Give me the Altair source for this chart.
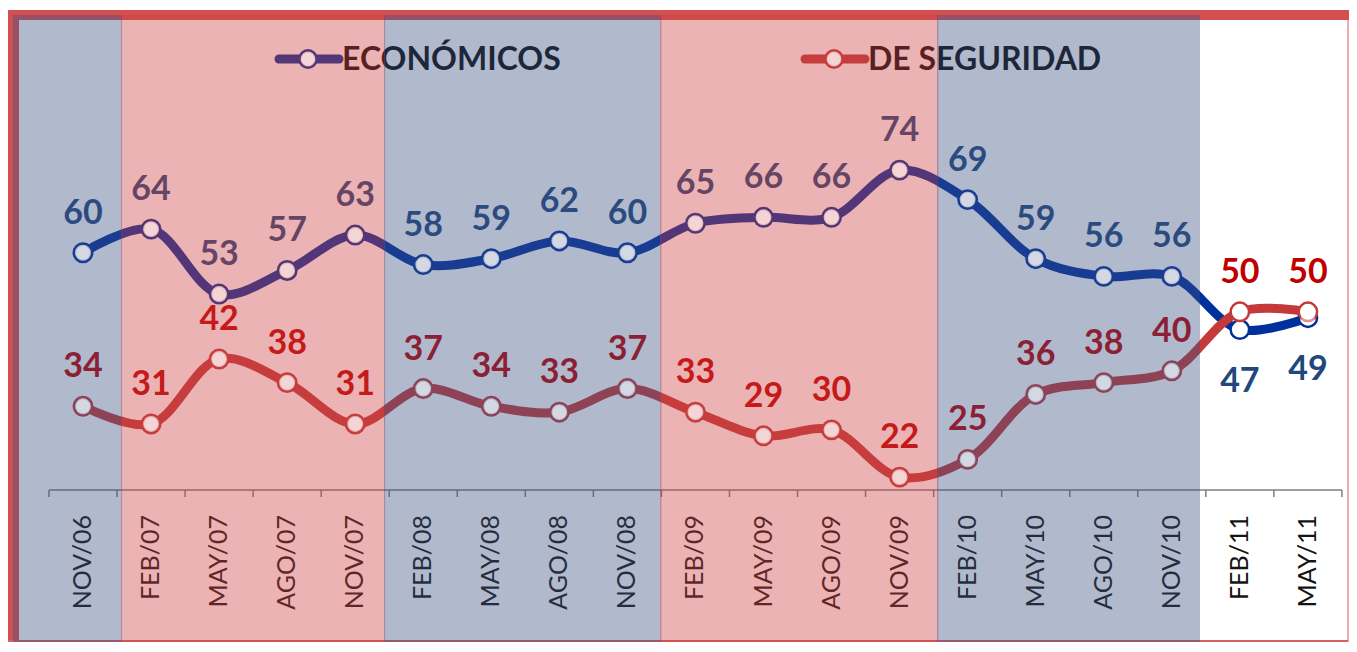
import altair as alt
import pandas as pd

# ---------------- data ----------------
categories = ["NOV/06", "FEB/07", "MAY/07", "AGO/07", "NOV/07", "FEB/08", "MAY/08",
              "AGO/08", "NOV/08", "FEB/09", "MAY/09", "AGO/09", "NOV/09", "FEB/10",
              "MAY/10", "AGO/10", "NOV/10", "FEB/11", "MAY/11"]
economicos = [60, 64, 53, 57, 63, 58, 59, 62, 60, 65, 66, 66, 74, 69, 59, 56, 56, 47, 49]
seguridad = [34, 31, 42, 38, 31, 37, 34, 33, 37, 33, 29, 30, 22, 25, 36, 38, 40, 50, 50]
series_names = ["ECONÓMICOS", "DE SEGURIDAD"]

# shaded periods (in category-index units)
band_start = [-1.03, 0.558, 4.423, 8.479, 12.55]
band_end = [0.575, 4.44, 8.50, 12.57, 16.414]
band_kind = ["azul", "rosa", "azul", "rosa", "azul"]

# ---------------- layout ----------------
W, H = 1341, 634
X0, DX = 75.0, 68.05      # pixel of first category, spacing between categories
Y0, DY = 599.0, 5.904     # pixel of value 0, pixels per unit
x_dom = [(0 - X0) / DX, (W - X0) / DX]
y_dom = [(Y0 - H) / DY, Y0 / DY]
xs = alt.Scale(domain=x_dom, nice=False, zero=False)
ys = alt.Scale(domain=y_dom, nice=False, zero=False)

BLUE = "#00309C"
RED = "#C43A3A"
LBL_BLUE = "#1F497D"
LBL_RED = "#C00000"
FONT = "Lato"

n = len(categories)
df = pd.DataFrame({"idx": list(range(n)), "cat": categories,
                   "eco": economicos, "seg": seguridad})
bands = pd.DataFrame({"start": band_start, "end": band_end, "kind": band_kind})
ticks = pd.DataFrame({"t": [i - 0.5 for i in range(n + 1)]})
axis_span = pd.DataFrame({"a": [-0.5], "b": [n - 0.5]})
one = alt.Chart(pd.DataFrame({"k": [0]}))

X = lambda f: alt.X(f, scale=xs, axis=None)
Y = lambda f: alt.Y(f, scale=ys, axis=None)

# ---------------- frame ----------------
top_bar = one.mark_rect(color="#D45050").encode(
    x=alt.value(-1), x2=alt.value(W), y=alt.value(2), y2=alt.value(12))
left_bar = one.mark_rect(color="#D45050").encode(
    x=alt.value(-1), x2=alt.value(11), y=alt.value(2), y2=alt.value(H))
right_line = one.mark_rule(color="#E89090", strokeWidth=1.5).encode(
    x=alt.value(W - 1), y=alt.value(12), y2=alt.value(H))
bottom_line = one.mark_rule(color="#D86060", strokeWidth=2).encode(
    x=alt.value(0), x2=alt.value(W - 1), y=alt.value(H - 1))

# ---------------- axis ----------------
axis_line = alt.Chart(axis_span).mark_rule(color="#7F7F7F", strokeWidth=1.5).encode(
    x=X("a:Q"), x2="b:Q", y=alt.value(482))
axis_ticks = alt.Chart(ticks).mark_rule(color="#7F7F7F", strokeWidth=1.5).encode(
    x=X("t:Q"), y=alt.value(482), y2=alt.value(489))
axis_labels = alt.Chart(df).mark_text(
    angle=270, align="right", baseline="middle", font=FONT, fontSize=25, color="#151515"
).encode(x=X("idx:Q"), y=alt.value(507), text="cat:N")

# ---------------- series ----------------
def line(field, color):
    return alt.Chart(df).mark_line(
        interpolate="catmull-rom", strokeWidth=9, strokeCap="round", color=color
    ).encode(x=X("idx:Q"), y=Y(f"{field}:Q"))

def points(field, color):
    return alt.Chart(df).mark_circle(
        size=340, color="#FFFFFF", opacity=1, stroke=color, strokeWidth=2.5
    ).encode(x=X("idx:Q"), y=Y(f"{field}:Q"))

def highlight(field):
    return alt.Chart(df).mark_circle(size=190, color="#FFFFFF", opacity=0.45).encode(
        x=X("idx:Q"), y=Y(f"{field}:Q"))

def labels(field, color, dy, flt=None):
    c = alt.Chart(df)
    if flt is not None:
        c = c.transform_filter(flt)
    return c.mark_text(
        font=FONT, fontWeight="bold", fontSize=34, baseline="alphabetic",
        align="center", dy=dy, color=color
    ).encode(x=X("idx:Q"), y=Y(f"{field}:Q"), text=f"{field}:Q")

eco_line = line("eco", BLUE)
seg_line = line("seg", RED)
eco_pts = points("eco", BLUE)
seg_pts = points("seg", RED)
eco_lbl_up = labels("eco", LBL_BLUE, -29, f"datum.idx < {n - 2}")
eco_lbl_dn = labels("eco", LBL_BLUE, 62, f"datum.idx >= {n - 2}")
seg_lbl = labels("seg", LBL_RED, -29)

# ---------------- legend ----------------
def legend_item(x0, name, color):
    ln = one.mark_rule(color=color, strokeWidth=9, strokeCap="round").encode(
        x=alt.value(x0), x2=alt.value(x0 + 60), y=alt.value(51))
    pt = one.mark_circle(size=300, color="#FFFFFF", opacity=1, stroke=color,
                         strokeWidth=2.5).encode(x=alt.value(x0 + 29), y=alt.value(51))
    hl = one.mark_circle(size=170, color="#FFFFFF", opacity=0.45).encode(
        x=alt.value(x0 + 29), y=alt.value(51))
    tx = one.mark_text(font=FONT, fontWeight="bold", fontSize=32, align="left",
                       baseline="alphabetic", color="#0A0A0A", text=name).encode(
        x=alt.value(x0 + 63), y=alt.value(62))
    return [ln, pt, tx], [hl]

leg1, leg1_hl = legend_item(271, series_names[0], BLUE)
leg2, leg2_hl = legend_item(797, series_names[1], RED)

# ---------------- overlay bands ----------------
overlay = alt.Chart(bands).mark_rect(opacity=0.4).encode(
    x=X("start:Q"), x2="end:Q", y=alt.value(7), y2=alt.value(H),
    color=alt.Color("kind:N", scale=alt.Scale(domain=["azul", "rosa"],
                                              range=["#3C5082", "#CD4141"]), legend=None))

chart = alt.layer(
    top_bar, left_bar, right_line, bottom_line,
    axis_line, axis_ticks, axis_labels,
    eco_line, seg_line, eco_pts, seg_pts,
    eco_lbl_up, eco_lbl_dn, seg_lbl,
    *leg1, *leg2,
    overlay,
    highlight("eco"), highlight("seg"), *leg1_hl, *leg2_hl,
).properties(
    width=W, height=H, autosize=alt.AutoSizeParams(type="none"), padding=0,
    background="white"
).configure_view(stroke=None)

chart.save("out.html", embed_options={"renderer": "svg", "actions": False})
